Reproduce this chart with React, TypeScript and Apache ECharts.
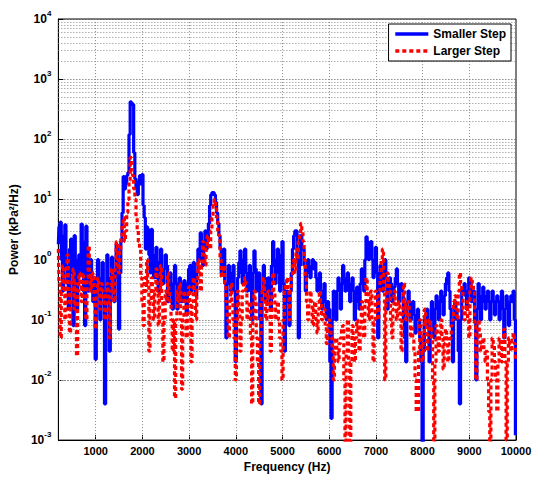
import React, { useEffect, useRef } from "react";
import * as echarts from "echarts";

// Frequency bins (Hz): uniform grid starting at 200 Hz with 25 Hz spacing
const FREQ_START = 200;
const FREQ_STEP = 25;

// Power spectral density values (kPa^2/Hz), 10 bins per row
const smallerStep = [
  1.8, 3.5, 4.2, 1.0, 0.3, 2.5, 3.8, 0.8, 0.4, 0.15,
  1.5, 2.2, 0.6, 0.08, 2.5, 1.0, 0.15, 0.5, 1.2, 0.6,
  3.9, 2.0, 0.3, 0.08, 3.6, 1.5, 0.3, 0.7, 1.0, 0.4,
  0.2, 0.5, 0.022, 0.3, 1.0, 0.5, 0.1, 0.4, 0.9, 0.3,
  0.004, 0.2, 1.2, 0.4, 0.03, 0.5, 1.1, 0.5, 0.2, 0.6,
  1.8, 0.5, 0.07, 0.6, 2.0, 6, 24, 15, 18, 25,
  28, 120, 420, 400, 380, 60, 22, 15, 12, 20,
  25, 18, 26, 8, 5, 1.5, 3.5, 3.2, 1.2, 0.6,
  3.2, 1.0, 0.5, 1.2, 1.6, 0.5, 0.3, 0.9, 1.5, 0.6,
  0.4, 0.7, 1.2, 0.8, 0.2, 0.4, 0.6, 0.3, 0.15, 0.4,
  0.8, 0.4, 0.15, 0.3, 0.5, 0.2, 0.2, 0.4, 0.45, 0.2,
  0.12, 0.4, 0.7, 0.8, 0.3, 0.5, 0.9, 0.4, 0.25, 0.6,
  1.5, 1.0, 2.8, 1.5, 0.8, 2.0, 3.0, 1.5, 2.0, 4,
  8, 12, 13, 13, 12, 9, 6, 4, 2.5, 1.5,
  0.6, 1.2, 1.5, 0.4, 0.05, 0.4, 0.8, 0.5, 0.3, 0.6,
  0.8, 0.3, 0.02, 0.2, 0.5, 0.9, 1.4, 0.6, 0.4, 1.0,
  1.5, 0.6, 0.3, 0.5, 0.8, 0.3, 0.1, 0.6, 1.4, 0.7,
  0.3, 0.5, 0.6, 0.1, 0.004, 0.3, 0.8, 0.5, 0.2, 0.4,
  0.5, 0.3, 0.15, 0.8, 2.0, 1.0, 0.4, 0.8, 1.5, 0.6,
  0.3, 1.2, 2.0, 0.4, 0.03, 0.2, 0.3, 0.2, 0.08, 0.3,
  0.6, 1.5, 2.5, 3.0, 3.0, 1.0, 0.05, 0.8, 2.5, 1.5,
  1.5, 0.8, 0.3, 0.6, 1.0, 0.8, 0.5, 0.8, 1.0, 0.7,
  0.9, 0.5, 0.3, 0.5, 0.6, 0.3, 0.15, 0.3, 0.4, 0.2,
  0.1, 0.2, 0.15, 0.02, 0.0023, 0.1, 0.3, 0.2, 0.1, 0.3,
  0.5, 0.3, 0.15, 0.4, 0.8, 0.5, 0.3, 0.4, 0.6, 0.3,
  0.2, 0.4, 0.5, 0.3, 0.1, 0.2, 0.35, 0.3, 0.15, 0.4,
  0.7, 0.5, 0.3, 1.0, 2.4, 2.0, 1.0, 1.2, 2.0, 1.0,
  0.5, 0.9, 1.6, 0.6, 0.05, 0.3, 0.8, 0.6, 0.3, 0.6,
  1.0, 0.5, 0.15, 0.3, 0.5, 0.4, 0.2, 0.25, 0.35, 0.5,
  0.7, 0.4, 0.2, 0.3, 0.4, 0.3, 0.1, 0.05, 0.02, 0.2,
  0.3, 0.2, 0.1, 0.15, 0.2, 0.12, 0.06, 0.1, 0.15, 0.1,
  0.05, 0.02, 0.0008, 0.03, 0.1, 0.12, 0.15, 0.08, 0.02, 0.1,
  0.2, 0.12, 0.05, 0.15, 0.25, 0.2, 0.1, 0.2, 0.3, 0.2,
  0.12, 0.25, 0.4, 0.5, 0.6, 0.3, 0.15, 0.08, 0.02, 0.1,
  0.2, 0.15, 0.1, 0.03, 0.004, 0.1, 0.3, 0.35, 0.4, 0.25,
  0.15, 0.3, 0.5, 0.4, 0.2, 0.25, 0.3, 0.1, 0.01, 0.15,
  0.4, 0.25, 0.1, 0.2, 0.35, 0.25, 0.15, 0.2, 0.3, 0.2,
  0.1, 0.2, 0.3, 0.2, 0.12, 0.2, 0.25, 0.2, 0.1, 0.2,
  0.3, 0.15, 0.05, 0.15, 0.25, 0.15, 0.08, 0.2, 0.25, 0.2,
  0.3, 0.1, 0.0012,
];

const largerStep = [
  1.5, 0.4, 0.05, 0.3, 0.8, 0.5, 0.1, 0.5, 1.2, 0.3,
  0.06, 0.3, 0.5, 0.7, 0.15, 0.4, 0.025, 0.3, 0.6, 0.4,
  0.2, 0.6, 0.5, 0.2, 0.1, 0.5, 1.7, 0.6, 0.3, 0.5,
  0.6, 0.2, 0.07, 0.3, 0.5, 0.3, 0.15, 0.4, 0.3, 0.2,
  0.1, 0.3, 0.4, 0.2, 0.05, 0.3, 0.7, 0.3, 0.2, 0.8,
  2.0, 1.0, 0.6, 1.5, 2.5, 4, 5, 2, 3, 6,
  10, 20, 50, 30, 25, 15, 10, 5, 3, 2,
  1.5, 0.5, 0.2, 0.08, 0.5, 0.3, 1.0, 0.4, 0.03, 0.2,
  0.5, 0.3, 0.1, 0.3, 0.7, 0.3, 0.08, 0.3, 0.8, 0.2,
  0.02, 0.1, 0.3, 0.2, 0.6, 0.3, 0.2, 0.1, 0.03, 0.1,
  0.005, 0.1, 0.3, 0.2, 0.4, 0.1, 0.007, 0.1, 0.3, 0.2,
  0.05, 0.2, 0.35, 0.2, 0.02, 0.2, 0.5, 0.3, 0.1, 0.4,
  1.0, 0.6, 0.3, 0.8, 2.0, 1.2, 0.8, 1.5, 2.5, 2.0,
  1.5, 3, 5, 8, 10, 7, 5, 3, 2.5, 1.0,
  0.5, 0.6, 0.8, 0.4, 0.2, 0.1, 0.05, 0.2, 0.4, 0.2,
  0.1, 0.05, 0.01, 0.1, 0.3, 0.15, 0.03, 0.1, 0.3, 0.4,
  0.5, 0.3, 0.1, 0.15, 0.2, 0.05, 0.004, 0.1, 0.3, 0.2,
  0.05, 0.02, 0.004, 0.05, 0.2, 0.3, 0.5, 0.3, 0.1, 0.2,
  0.3, 0.15, 0.03, 0.2, 0.6, 0.3, 0.1, 0.15, 0.2, 0.1,
  0.05, 0.03, 0.01, 0.1, 0.3, 0.4, 0.5, 0.3, 0.1, 0.3,
  0.5, 0.8, 1.0, 0.6, 1.5, 1.0, 2.0, 2.5, 4.0, 3.0,
  2.0, 1.0, 0.5, 0.2, 0.1, 0.2, 0.3, 0.2, 0.08, 0.15,
  0.2, 0.1, 0.06, 0.15, 0.3, 0.2, 0.1, 0.12, 0.15, 0.08,
  0.04, 0.08, 0.1, 0.08, 0.05, 0.03, 0.01, 0.03, 0.05, 0.03,
  0.02, 0.04, 0.05, 0.07, 0.08, 0.01, 0.0005, 0.03, 0.1, 0.02,
  0.0005, 0.02, 0.08, 0.05, 0.02, 0.05, 0.1, 0.06, 0.03, 0.08,
  0.2, 0.1, 0.05, 0.2, 0.5, 0.3, 0.1, 0.2, 0.3, 0.1,
  0.02, 0.1, 0.3, 0.2, 0.1, 0.3, 0.5, 1.0, 1.5, 0.3,
  0.01, 0.2, 0.6, 0.4, 0.3, 0.1, 0.05, 0.15, 0.3, 0.2,
  0.1, 0.15, 0.2, 0.1, 0.03, 0.15, 0.4, 0.2, 0.1, 0.15,
  0.2, 0.1, 0.05, 0.08, 0.05, 0.03, 0.01, 0.003, 0.003, 0.03,
  0.1, 0.05, 0.02, 0.06, 0.15, 0.08, 0.03, 0.06, 0.1, 0.08,
  0.05, 0.01, 0.0005, 0.02, 0.08, 0.05, 0.03, 0.06, 0.1, 0.05,
  0.015, 0.04, 0.07, 0.05, 0.02, 0.04, 0.05, 0.08, 0.1, 0.2,
  0.25, 0.15, 0.1, 0.3, 0.6, 0.4, 0.3, 0.15, 0.1, 0.15,
  0.2, 0.1, 0.05, 0.3, 0.5, 0.4, 0.3, 0.08, 0.01, 0.05,
  0.1, 0.06, 0.03, 0.04, 0.05, 0.03, 0.02, 0.03, 0.01, 0.003,
  0.0005, 0.01, 0.05, 0.04, 0.02, 0.01, 0.003, 0.02, 0.05, 0.04,
  0.02, 0.05, 0.07, 0.02, 0.001, 0.02, 0.05, 0.04, 0.03, 0.05,
  0.06, 0.04, 0.02,
];

const xTickValues = [1000, 2000, 3000, 4000, 5000, 6000, 7000, 8000, 9000, 10000];
const xGridValues = [1000, 2000, 3000, 4000, 5000, 6000, 7000, 8000, 9000];
const yDecadeExponents = [-3, -2, -1, 0, 1, 2, 3];
const minorMultipliers = [2, 3, 4, 5, 6, 7, 8, 9];

const FONT = "'Liberation Sans', Arial, Helvetica, sans-serif";

export default function App() {
  const ref = useRef<HTMLDivElement>(null);

  useEffect(() => {
    if (!ref.current) return;
    const chart = echarts.init(ref.current, null, { renderer: "svg" });

    const toPairs = (vals: number[]) =>
      vals.map((v, i) => [FREQ_START + i * FREQ_STEP, v]);

    const minorY: number[] = [];
    yDecadeExponents.forEach((e) => {
      minorMultipliers.forEach((m) => minorY.push(m * Math.pow(10, e)));
    });

    const gridLineData = [
      ...minorY.map((v) => ({ yAxis: v })),
      ...xGridValues.map((v) => ({ xAxis: v })),
    ];

    const option: any = {
      animation: false,
      backgroundColor: "#ffffff",
      textStyle: { fontFamily: FONT },
      grid: {
        left: 58,
        right: 21,
        top: 19,
        bottom: 33,
        show: true,
        borderColor: "#000",
        borderWidth: 1,
        backgroundColor: "transparent",
      },
      legend: {
        orient: "vertical",
        right: 26,
        top: 24,
        align: "left",
        itemWidth: 33,
        itemHeight: 14,
        itemGap: 5,
        padding: [4, 5, 4, 5],
        borderColor: "#000",
        borderWidth: 1,
        backgroundColor: "#fff",
        itemStyle: { opacity: 0 },
        lineStyle: { width: 3.5 },
        textStyle: {
          color: "#000",
          fontSize: 12,
          fontWeight: "bold",
          fontFamily: FONT,
        },
        data: ["Smaller Step", "Larger Step"],
      },
      xAxis: {
        type: "value",
        min: 200,
        max: 10000,
        name: "Frequency (Hz)",
        nameLocation: "middle",
        nameGap: 17,
        nameTextStyle: {
          color: "#000",
          fontSize: 12,
          fontWeight: "bold",
          fontFamily: FONT,
        },
        axisLine: { show: true, onZero: false, lineStyle: { color: "#000", width: 1 } },
        axisTick: {
          show: true,
          inside: true,
          length: 5,
          customValues: xTickValues,
          lineStyle: { color: "#000" },
        },
        axisLabel: {
          customValues: xTickValues,
          formatter: (v: number) => String(v),
          color: "#000",
          fontSize: 11,
          fontWeight: "bold",
          fontFamily: FONT,
          margin: 5,
        },
        splitLine: { show: false },
      },
      yAxis: {
        type: "log",
        logBase: 10,
        min: 0.001,
        max: 10000,
        splitNumber: 7,
        name: "Power (kPa²/Hz)",
        nameLocation: "middle",
        nameGap: 27,
        nameTextStyle: {
          color: "#000",
          fontSize: 12,
          fontWeight: "bold",
          fontFamily: FONT,
        },
        axisLine: { show: true, lineStyle: { color: "#000", width: 1 } },
        axisTick: { show: true, inside: true, length: 5, lineStyle: { color: "#000" } },
        axisLabel: {
          margin: 7,
          formatter: (v: number) => `{b|10}{s|${Math.round(Math.log10(v))}}`,
          rich: {
            b: {
              color: "#000",
              fontSize: 12,
              fontWeight: "bold",
              fontFamily: FONT,
              lineHeight: 14,
            },
            s: {
              color: "#000",
              fontSize: 8,
              fontWeight: "bold",
              fontFamily: FONT,
              lineHeight: 8,
              padding: [0, 0, 12, 0],
            },
          },
        },
        splitLine: {
          show: true,
          lineStyle: { color: "#555", width: 1, type: [1, 2] },
        },
      },
      series: [
        {
          name: "Smaller Step",
          type: "line",
          data: toPairs(smallerStep),
          step: "middle",
          showSymbol: false,
          symbol: "none",
          clip: true,
          color: "#0000ff",
          lineStyle: { color: "#0000ff", width: 3.2, type: "solid" },
          z: 2,
          markLine: {
            silent: true,
            symbol: "none",
            z: 1,
            label: { show: false },
            emphasis: { disabled: true },
            lineStyle: { color: "#888", width: 1, type: [1, 2] },
            data: gridLineData,
          },
        },
        {
          name: "Larger Step",
          type: "line",
          data: toPairs(largerStep),
          step: "middle",
          showSymbol: false,
          symbol: "none",
          clip: true,
          color: "#ff0000",
          lineStyle: { color: "#ff0000", width: 3.2, type: [4, 3] },
          z: 3,
        },
      ],
    };

    chart.setOption(option);
    return () => chart.dispose();
  }, []);

  return (
    <div
      ref={ref}
      style={{ position: "absolute", left: 0, top: 0, width: 537, height: 478 }}
    />
  );
}
